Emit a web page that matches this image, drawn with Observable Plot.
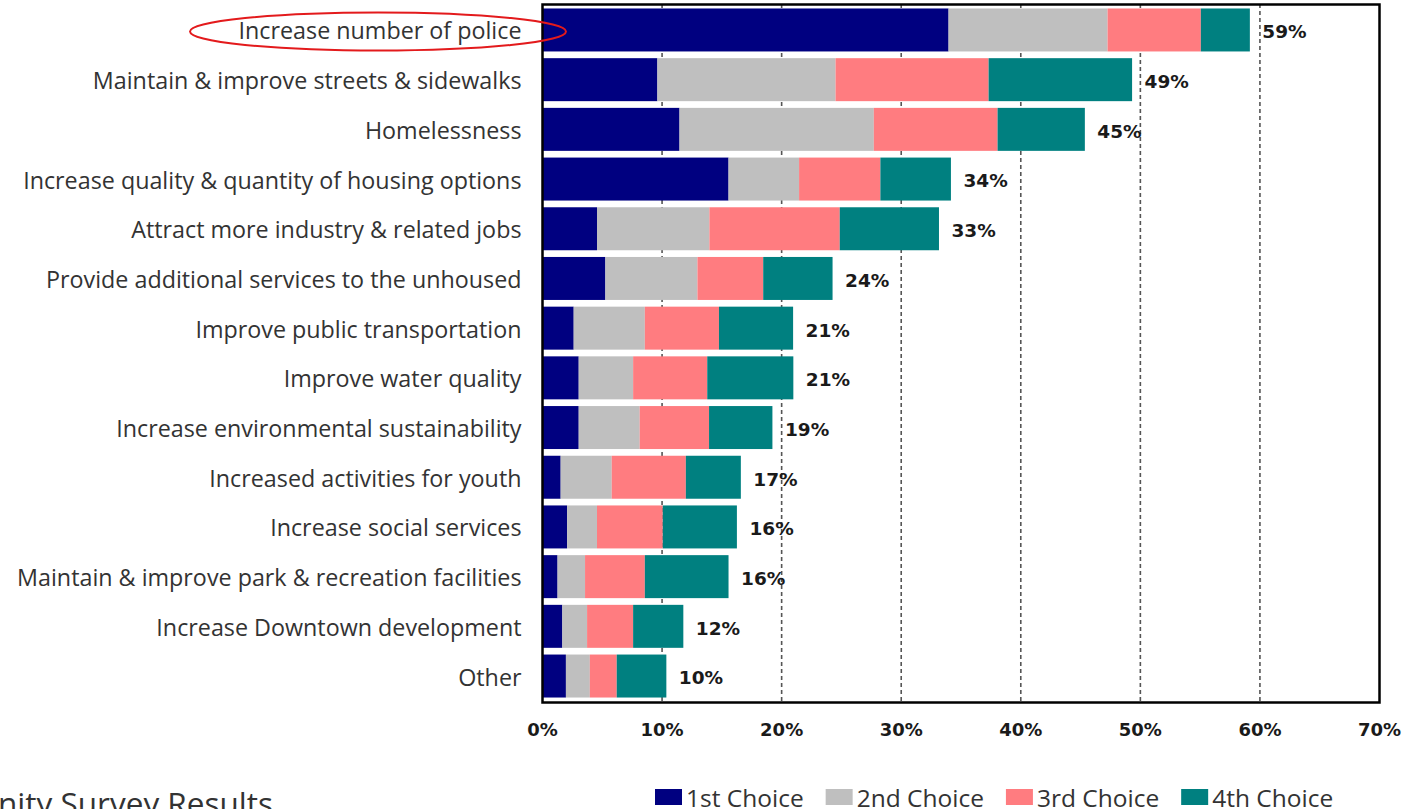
<!DOCTYPE html>
<html><head><meta charset="utf-8">
<script src="https://cdn.jsdelivr.net/npm/d3@7"></script>
<script src="https://cdn.jsdelivr.net/npm/@observablehq/plot@0.6"></script>
<style>
html,body{margin:0;padding:0;background:#fff;width:1409px;height:809px;overflow:hidden;}
#wrap{position:relative;width:1409px;height:809px;}
#wrap svg.plot{position:absolute;left:0;top:0;}
#overlay{position:absolute;left:0;top:0;pointer-events:none;}
</style></head><body><div id="wrap"></div>
<script>
const categories = [
  "Increase number of police",
  "Maintain & improve streets & sidewalks",
  "Homelessness",
  "Increase quality & quantity of housing options",
  "Attract more industry & related jobs",
  "Provide additional services to the unhoused",
  "Improve public transportation",
  "Improve water quality",
  "Increase environmental sustainability",
  "Increased activities for youth",
  "Increase social services",
  "Maintain & improve park & recreation facilities",
  "Increase Downtown development",
  "Other"
];
const choices = ["1st Choice", "2nd Choice", "3rd Choice", "4th Choice"];
const colors = ["#000080", "#BFBFBF", "#FF7C80", "#008080"];
const first  = [34.0, 9.65, 11.5, 15.6, 4.6, 5.3, 2.65, 3.07, 3.07, 1.56, 2.1, 1.3, 1.7, 2.0];
const second = [13.3, 14.9, 16.25, 5.9, 9.4, 7.7, 5.95, 4.55, 5.1, 4.27, 2.5, 2.3, 2.07, 2.0];
const third  = [7.8, 12.8, 10.35, 6.8, 10.9, 5.5, 6.2, 6.2, 5.8, 6.2, 5.5, 5.0, 3.85, 2.25];
const fourth = [4.1, 12.0, 7.3, 5.9, 8.3, 5.8, 6.2, 7.2, 5.3, 4.6, 6.2, 7.0, 4.2, 4.15];
const totalLabels = ["59%", "49%", "45%", "34%", "33%", "24%", "21%", "21%", "19%", "17%", "16%", "16%", "12%", "10%"];
const xTicks = [0, 10, 20, 30, 40, 50, 60, 70];
const gridTicks = [10, 20, 30, 40, 50, 60];
const titleText = "Community Survey Results";

const series = [first, second, third, fourth];
const data = categories.flatMap((c, i) => series.map((arr, j) => ({category: c, choice: choices[j], value: arr[i]})));
const totals = categories.map((c, i) => ({category: c, total: series.reduce((s, arr) => s + arr[i], 0), label: totalLabels[i]}));

const plot = Plot.plot({
  width: 1409,
  height: 760,
  marginLeft: 542,
  marginRight: 30,
  marginTop: 4,
  marginBottom: 58,
  style: {fontFamily: "'Open Sans', sans-serif", background: "#fff", overflow: "visible"},
  x: {domain: [0, 70], label: null},
  y: {domain: categories, paddingInner: 0.135, paddingOuter: 0.09, round: false, label: null},
  color: {domain: choices, range: colors},
  marks: [
    Plot.ruleX(gridTicks, {stroke: "#555", strokeDasharray: "4,3", strokeWidth: 1.6}),
    Plot.barX(data, {x: "value", y: "category", fill: "choice"}),
    Plot.text(totals, {x: "total", y: "category", text: "label", dx: 12, dy: 2, textAnchor: "start",
      fontFamily: "'DejaVu Sans', sans-serif", fontWeight: "bold", fontSize: 18.5, fill: "#1a1a1a"}),
    Plot.frame({stroke: "#000", strokeWidth: 2.5}),
    Plot.axisX(xTicks, {tickSize: 0, tickPadding: 21, tickFormat: d => d + "%", label: null,
      fontFamily: "'DejaVu Sans', sans-serif", fontWeight: "bold", fontSize: 18, fill: "#1a1a1a"}),
    Plot.axisY({tickSize: 0, tickPadding: 21, label: null, fontSize: 23.3, fill: "#333", dy: 1.5})
  ]
});
plot.classList.add("plot");
const wrap = document.getElementById("wrap");
wrap.appendChild(plot);

// overlay: annotation ellipse, legend, clipped slide title
const ys = plot.scale("y");
const cy = ys.apply(categories[0]) + ys.bandwidth / 2;
const ov = d3.select(wrap).append("svg").attr("id", "overlay").attr("width", 1409).attr("height", 809);
ov.append("ellipse").attr("cx", 378).attr("cy", cy + 1.5).attr("rx", 188).attr("ry", 19)
  .attr("fill", "none").attr("stroke", "#E31A1C").attr("stroke-width", 2);

ov.append("text").attr("x", 273).attr("y", 814.5).attr("text-anchor", "end")
  .attr("font-family", "'Open Sans', sans-serif").attr("font-size", 31.5).attr("fill", "#333").text(titleText);

const lg = ov.append("g").attr("font-family", "'Open Sans', sans-serif").attr("font-size", 24.5).attr("fill", "#333");
let lx = 655;
choices.forEach((c, j) => {
  lg.append("rect").attr("x", lx).attr("y", 789).attr("width", 27).attr("height", 16).attr("fill", colors[j]);
  const t = lg.append("text").attr("x", lx + 31).attr("y", 807).text(c);
  const w = t.node().getComputedTextLength();
  lx = lx + 31 + w + 22;
});
</script></body></html>
